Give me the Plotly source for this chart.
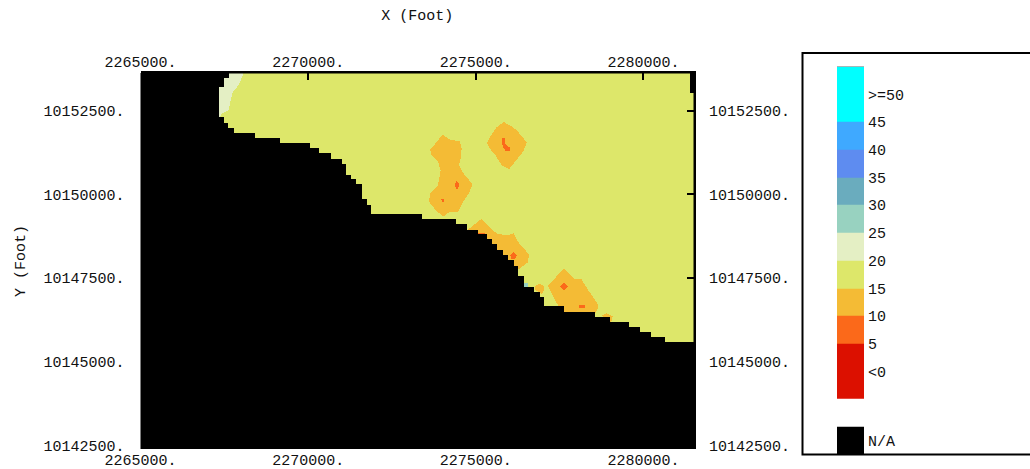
import numpy as np
import plotly.graph_objects as go

# ---------- axes ----------
X_TICKS = [2265000, 2270000, 2275000, 2280000]
X_TICK_TEXT = ["2265000.", "2270000.", "2275000.", "2280000."]
Y_TICKS = [10142500, 10145000, 10147500, 10150000, 10152500]
Y_TICK_TEXT = ["10142500.", "10145000.", "10147500.", "10150000.", "10152500."]
X_RANGE = [2265000, 2281510]
Y_RANGE = [10142395, 10153630]

# ---------- legend ----------
BAND_EDGES = [-15, -10, -5, 5, 10, 15, 20, 25, 30, 35, 40, 45, 55]
BAND_COLORS = ["#000000", "#ffffff", "#dc1000", "#fb691a", "#f4bb35", "#dde76a",
               "#e4efc4", "#98d2c0", "#6aacbe", "#5e8cf0", "#3fa9ff", "#00ffff"]
LEGEND_Z = [-12.5, -7.5, 0, 7.5, 12.5, 17.5, 22.5, 27.5, 32.5, 37.5, 42.5, 50]
LEGEND_TICKS = [-12.5, 0, 5, 10, 15, 20, 25, 30, 35, 40, 45, 50]
LEGEND_TEXT = ["N/A", "<0", "5", "10", "15", "20", "25", "30", "35", "40", "45", ">=50"]

# ---------- no-data boundary: from each y (top of a run), valid data begin at this x ----------
COAST_Y = [10153690, 10153500, 10153220, 10152320, 10152150, 10151990, 10151830, 10151680,
           10151530, 10151380, 10151230, 10151070, 10150910, 10150590, 10150470, 10150310,
           10149850, 10149690, 10149410, 10149260, 10149110, 10148940, 10148800, 10148650,
           10148500, 10148340, 10148190, 10148020, 10147870, 10147570, 10147260, 10147110,
           10146960, 10146670, 10146510, 10146360, 10146200, 10146040, 10145900, 10145760,
           10145600]
COAST_X = [2267630, 2267500, 2267330, 2267490, 2267620, 2267780, 2268420, 2269160,
           2270070, 2270350, 2270670, 2270990, 2271110, 2271260, 2271430, 2271590,
           2271750, 2271870, 2273410, 2274430, 2274750, 2275070, 2275350, 2275510,
           2275660, 2275820, 2275980, 2276140, 2276260, 2276420, 2276740, 2276900,
           2277030, 2277640, 2278570, 2279010, 2279590, 2279910, 2280230, 2280670]
CORNER_GAP_X = 2281420
CORNER_GAP_Y = 10153060
BASE_VALUE = 17.5

# ---------- contour bands (drawn in order) ----------
LIGHT_X = [2267070, 2268120, 2267920, 2267750, 2267620, 2267420, 2267330, 2267070]
LIGHT_Y = [10153720, 10153720, 10153270, 10153070, 10152520, 10152420, 10152280, 10152280]

HILL_A_X = [2275860, 2276200, 2276510, 2276420, 2276200, 2275990, 2275800, 2275600, 2275430, 2275350, 2275430, 2275640]
HILL_A_Y = [10152180, 10151940, 10151570, 10151310, 10151030, 10150770, 10150870, 10151180, 10151380, 10151530, 10151720, 10152020]
CORE_A_X = [2275790, 2275900, 2275900, 2276020, 2276020, 2275900, 2275820]
CORE_A_Y = [10151710, 10151710, 10151510, 10151410, 10151290, 10151310, 10151450]

HILL_B_X = [2274010, 2274230, 2274530, 2274590, 2274550, 2274510, 2274610, 2274910, 2274830, 2274630, 2274480,
            2274230, 2274030, 2273790, 2273610, 2273640, 2273880, 2273960, 2273880, 2273690, 2273640, 2273840]
HILL_B_Y = [10151800, 10151650, 10151590, 10151380, 10151030, 10150870, 10150680, 10150310, 10150080, 10149780, 10149480,
            10149480, 10149330, 10149560, 10149780, 10150030, 10150280, 10150730, 10150980, 10151180, 10151350, 10151570]
CORE_B1_X = [2274400, 2274450, 2274510, 2274490, 2274430, 2274390]
CORE_B1_Y = [10150350, 10150410, 10150330, 10150180, 10150170, 10150250]
CORE_B2_X = [2273960, 2274080, 2274030]
CORE_B2_Y = [10149880, 10149880, 10149750]

HILL_C_X = [2274750, 2275180, 2275430, 2275660, 2275970, 2276120, 2276240, 2276590, 2276540, 2276270, 2276020, 2275520, 2275030, 2274750]
HILL_C_Y = [10148920, 10149270, 10149020, 10148810, 10148790, 10148840, 10148590, 10148190, 10147990, 10147790, 10147740, 10148140, 10148540, 10148840]
CORE_C1_X = [2275080, 2275280, 2275310, 2275070]
CORE_C1_Y = [10148850, 10148850, 10148730, 10148730]
CORE_C2_X = [2276120, 2276220, 2276160, 2276050, 2276020]
CORE_C2_Y = [10148270, 10148170, 10148060, 10148070, 10148170]

HILL_D_X = [2276740, 2276870, 2277000, 2277040, 2276970, 2276870, 2276770]
HILL_D_Y = [10147260, 10147340, 10147320, 10147200, 10147050, 10147110, 10147160]

HILL_E_X = [2277140, 2277630, 2277960, 2278160, 2278330, 2278640, 2278640, 2278560, 2277660, 2277420]
HILL_E_Y = [10147290, 10147810, 10147490, 10147480, 10147200, 10146750, 10146600, 10146450, 10146450, 10146750]
CORE_E1_X = [2277630, 2277750, 2277630, 2277510]
CORE_E1_Y = [10147390, 10147270, 10147140, 10147270]
CORE_E2_X = [2278080, 2278260, 2278260, 2278080]
CORE_E2_Y = [10146710, 10146710, 10146630, 10146630]

HILL_F_X = [2278760, 2278910, 2279090, 2279040, 2278910]
HILL_F_Y = [10146400, 10146470, 10146370, 10146190, 10146250]

SPECK_X = [2276440, 2276540, 2276540, 2276440]
SPECK_Y = [10147390, 10147390, 10147260, 10147260]

BANDS = [
    (22.5, LIGHT_X, LIGHT_Y), (27.5, SPECK_X, SPECK_Y),
    (12.5, HILL_A_X, HILL_A_Y), (12.5, HILL_B_X, HILL_B_Y), (12.5, HILL_C_X, HILL_C_Y),
    (12.5, HILL_D_X, HILL_D_Y), (12.5, HILL_E_X, HILL_E_Y), (12.5, HILL_F_X, HILL_F_Y),
    (7.5, CORE_A_X, CORE_A_Y), (7.5, CORE_B1_X, CORE_B1_Y), (7.5, CORE_B2_X, CORE_B2_Y),
    (7.5, CORE_C1_X, CORE_C1_Y), (7.5, CORE_C2_X, CORE_C2_Y),
    (7.5, CORE_E1_X, CORE_E1_Y), (7.5, CORE_E2_X, CORE_E2_Y),
]

# ---------- raster on a 30 ft grid ----------
CELL = 30
xs = np.arange(X_RANGE[0] + CELL / 2, X_RANGE[1], CELL)
ys = np.arange(Y_RANGE[0] + CELL / 2, Y_RANGE[1], CELL)
gx, gy = np.meshgrid(xs, ys)
z = np.full(gx.shape, np.nan, dtype=float)


def inside(px, py):
    px, py = np.asarray(px, float), np.asarray(py, float)
    hit = np.zeros(gx.shape, bool)
    for i in range(len(px)):
        x0, y0, x1, y1 = px[i], py[i], px[(i + 1) % len(px)], py[(i + 1) % len(px)]
        if y0 == y1:
            continue
        crosses = (y0 > gy) != (y1 > gy)
        hit ^= crosses & (gx < x0 + (gy - y0) * (x1 - x0) / (y1 - y0))
    return hit


for i, start in enumerate(COAST_X):
    row = (gy <= COAST_Y[i]) & (gy > COAST_Y[i + 1]) & (gx >= start)
    z[row] = BASE_VALUE
for value, bx, by in BANDS:
    hit = inside(bx, by) & ~np.isnan(z)
    z[hit] = value
z[(gx >= CORNER_GAP_X) & (gy >= CORNER_GAP_Y)] = np.nan

# ---------- discrete colour scale ----------
lo, hi = BAND_EDGES[0], BAND_EDGES[-1]
scale = []
for i, c in enumerate(BAND_COLORS):
    scale.append([(BAND_EDGES[i] - lo) / (hi - lo), c])
    scale.append([(BAND_EDGES[i + 1] - lo) / (hi - lo), c])

W, H = 1030, 469
FONT = dict(family="Liberation Mono", size=15, color="#111111")


def dom_x(a, b):
    return [a / W, b / W]


def dom_y(top, bottom):
    return [1 - bottom / H, 1 - top / H]


fig = go.Figure()
fig.add_trace(go.Heatmap(x=xs, y=ys, z=z, colorscale=scale, zmin=lo, zmax=hi,
                         showscale=False, hoverongaps=False, xaxis="x", yaxis="y"))
fig.add_trace(go.Scatter(x=[None], y=[None], xaxis="x2", yaxis="y2", showlegend=False, hoverinfo="skip"))
fig.add_trace(go.Heatmap(x=[0, 1], y=BAND_EDGES, z=[[v] for v in LEGEND_Z], colorscale=scale,
                         zmin=lo, zmax=hi, showscale=False, hoverongaps=False, xaxis="x3", yaxis="y3"))

ax_common = dict(tickfont=FONT, ticks="inside", ticklen=7, tickwidth=2, tickcolor="black", automargin=False,
                 showgrid=False, zeroline=False, linecolor="black", linewidth=2)
TITLE_FONT = dict(family="Liberation Mono", size=15, color="#111111")
fig.update_layout(
    template="none",
    width=W, height=H, margin=dict(l=0, r=0, t=0, b=0, pad=0),
    paper_bgcolor="white", plot_bgcolor="black", showlegend=False, font=FONT,
    xaxis=dict(domain=dom_x(140.5, 694), range=X_RANGE, tickmode="array", tickvals=X_TICKS,
               ticktext=X_TICK_TEXT, side="bottom", anchor="y", showline=False, ticklabelstandoff=0, **ax_common),
    yaxis=dict(domain=dom_y(73, 449), range=Y_RANGE, tickmode="array", tickvals=Y_TICKS,
               ticktext=Y_TICK_TEXT, side="left", anchor="x", showline=False, ticklabelstandoff=15,
               title=dict(text="Y (Foot)", font=TITLE_FONT, standoff=14), **ax_common),
    xaxis2=dict(domain=dom_x(140.5, 694), range=X_RANGE, tickmode="array", tickvals=X_TICKS,
                ticktext=X_TICK_TEXT, side="top", overlaying="x", anchor="y2", showline=True, ticklabelstandoff=-2,
                title=dict(text="X (Foot)", font=TITLE_FONT, standoff=31), **ax_common),
    yaxis2=dict(domain=dom_y(73, 449), range=Y_RANGE, tickmode="array", tickvals=Y_TICKS,
                ticktext=Y_TICK_TEXT, side="right", overlaying="y", anchor="x2", showline=True, ticklabelstandoff=10,
                **ax_common),
    xaxis3=dict(domain=dom_x(837, 864), range=[0, 1], visible=False, anchor="y3"),
    yaxis3=dict(domain=dom_y(66.7, 455), range=[-15.1, 55], anchor="x3", side="right", automargin=False,
                tickmode="array", tickvals=LEGEND_TICKS, ticktext=LEGEND_TEXT, tickfont=FONT,
                ticks="", showgrid=False, zeroline=False, showline=False, ticklabelstandoff=3),
    shapes=[dict(type="rect", xref="paper", yref="paper", x0=802.5 / W, x1=1.02,
                 y0=1 - 454.5 / H, y1=1 - 53 / H, line=dict(color="black", width=2), layer="below")],
)

fig.write_html("out.html", config={"displayModeBar": False},
               post_script="document.body.style.margin='0';")
